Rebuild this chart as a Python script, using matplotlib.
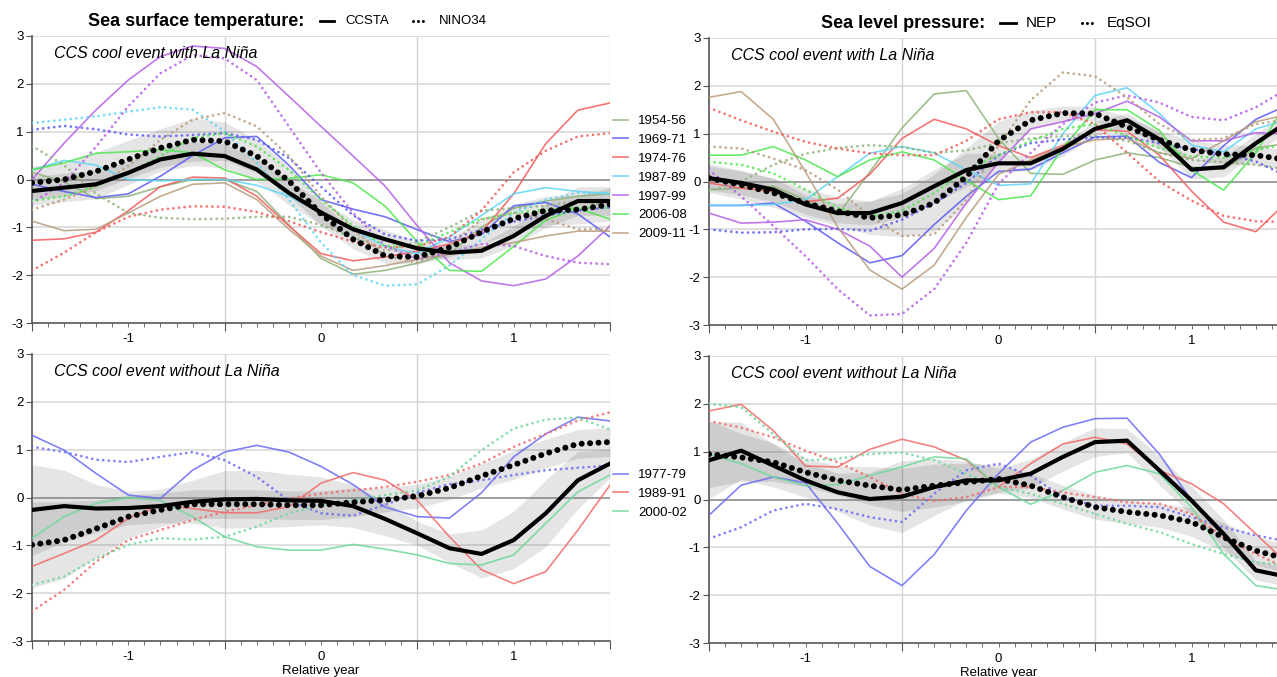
import numpy as np
import matplotlib
matplotlib.use('Agg')
import matplotlib.pyplot as plt
from matplotlib.lines import Line2D

plt.rcParams['font.family'] = ['Liberation Sans', 'DejaVu Sans']
plt.rcParams['axes.unicode_minus'] = False

# relative year, one value every second month
rel_year = np.arange(-18, 19, 2) / 12.

events_nina = ['1954-56', '1969-71', '1974-76', '1987-89', '1997-99', '2006-08', '2009-11']
colors_nina = ['#8db27a', '#5a5af5', '#f25c5c', '#5fd5f5', '#b65ee6', '#4fe64f', '#b89c7e']
events_nonina = ['1977-79', '1989-91', '2000-02']
colors_nonina = ['#6b6bf5', '#f26b6b', '#6fd89a']

# ---- SST, CCS cool event with La Nina
ccsta_nina = [-0.24, -0.17, -0.1, 0.14, 0.42, 0.54, 0.49, 0.21, -0.28, -0.69, -1.04, -1.25, -1.44, -1.53, -1.49, -1.18, -0.76, -0.45, -0.45]
nino34_nina = [-0.07, 0.0, 0.17, 0.42, 0.66, 0.83, 0.8, 0.49, -0.03, -0.72, -1.25, -1.6, -1.62, -1.42, -1.1, -0.82, -0.65, -0.63, -0.52]
ccsta_nina_se = [0.3, 0.3, 0.3, 0.25, 0.25, 0.25, 0.25, 0.25, 0.25, 0.25, 0.2, 0.2, 0.15, 0.15, 0.15, 0.2, 0.25, 0.3, 0.3]
nino34_nina_se = [0.35, 0.35, 0.4, 0.4, 0.4, 0.45, 0.4, 0.35, 0.3, 0.25, 0.2, 0.15, 0.15, 0.2, 0.25, 0.3, 0.3, 0.3, 0.35]

ccsta_1954 = [0.15, -0.05, -0.4, -0.35, -0.15, 0.0, 0.0, -0.25, -0.95, -1.65, -1.98, -1.9, -1.75, -1.55, -1.0, -0.6, -0.45, -0.35, -0.3]
ccsta_1969 = [-0.1, -0.25, -0.38, -0.3, 0.07, 0.5, 0.87, 0.9, 0.3, -0.42, -0.62, -0.78, -1.05, -1.3, -1.15, -0.55, -0.48, -0.72, -1.2]
ccsta_1974 = [-1.27, -1.24, -1.1, -0.65, -0.15, 0.05, 0.03, -0.35, -0.97, -1.55, -1.7, -1.62, -1.5, -1.35, -1.1, -0.3, 0.75, 1.45, 1.6]
ccsta_1987 = [0.2, 0.4, 0.3, 0.0, -0.03, 0.0, 0.0, -0.12, -0.35, -0.68, -1.05, -1.4, -1.55, -1.2, -0.75, -0.3, -0.17, -0.25, -0.3]
ccsta_1997 = [0.0, 0.76, 1.46, 2.08, 2.57, 2.79, 2.74, 2.36, 1.74, 1.11, 0.49, -0.14, -0.97, -1.74, -2.12, -2.22, -2.08, -1.6, -0.97]
ccsta_2006 = [0.2, 0.35, 0.55, 0.58, 0.62, 0.56, 0.2, 0.0, 0.02, 0.1, -0.07, -0.56, -1.3, -1.9, -1.92, -1.4, -0.85, -0.6, -0.83]
ccsta_2009 = [-0.87, -1.07, -1.04, -0.7, -0.35, -0.1, -0.07, -0.42, -1.04, -1.6, -1.9, -1.8, -1.67, -1.56, -1.42, -1.32, -1.18, -1.08, -1.08]

nino34_1954 = [0.7, 0.3, -0.3, -0.7, -0.8, -0.83, -0.82, -0.78, -0.78, -0.95, -1.2, -1.5, -1.3, -1.0, -0.65, -0.6, -0.55, -0.45, -0.55]
nino34_1969 = [1.04, 1.12, 1.05, 0.94, 0.9, 0.93, 0.97, 0.83, 0.45, -0.15, -0.75, -1.15, -1.28, -1.25, -1.05, -0.88, -0.75, -0.65, -0.58]
nino34_1974 = [-1.9, -1.53, -1.1, -0.78, -0.63, -0.56, -0.57, -0.68, -0.87, -1.1, -1.3, -1.42, -1.4, -1.2, -0.65, 0.15, 0.6, 0.9, 0.97]
nino34_1987 = [1.18, 1.25, 1.32, 1.42, 1.51, 1.46, 1.0, 0.35, -0.42, -1.32, -2.0, -2.22, -2.19, -1.8, -1.25, -0.7, -0.42, -0.28, -0.28]
nino34_1997 = [-0.49, -0.07, 0.69, 1.53, 2.22, 2.6, 2.53, 2.08, 1.11, 0.14, -0.7, -1.39, -1.67, -1.53, -1.35, -1.39, -1.6, -1.74, -1.77]
nino34_2006 = [-0.45, -0.35, -0.14, 0.14, 0.49, 0.87, 0.97, 0.69, 0.2, -0.42, -0.97, -1.39, -1.39, -1.1, -0.83, -0.7, -0.63, -0.59, -0.59]
nino34_2009 = [-0.63, -0.42, -0.14, 0.28, 0.83, 1.25, 1.39, 1.11, 0.49, -0.35, -1.04, -1.6, -1.74, -1.39, -0.83, -0.7, -0.83, -1.04, -1.04]

# ---- SLP, CCS cool event with La Nina
nep_nina = [0.07, -0.03, -0.17, -0.48, -0.66, -0.66, -0.45, -0.1, 0.24, 0.38, 0.38, 0.68, 1.1, 1.28, 0.88, 0.25, 0.3, 0.8, 1.25]
eqsoi_nina = [0.07, -0.07, -0.24, -0.45, -0.62, -0.76, -0.7, -0.45, 0.1, 0.85, 1.28, 1.43, 1.42, 1.14, 0.87, 0.66, 0.57, 0.55, 0.45]
nep_nina_se = [0.25, 0.25, 0.25, 0.2, 0.2, 0.25, 0.3, 0.35, 0.35, 0.2, 0.15, 0.15, 0.15, 0.15, 0.15, 0.2, 0.2, 0.2, 0.2]
eqsoi_nina_se = [0.3, 0.3, 0.3, 0.3, 0.3, 0.35, 0.45, 0.6, 0.6, 0.4, 0.2, 0.15, 0.15, 0.2, 0.2, 0.2, 0.2, 0.2, 0.2]

nep_1954 = [-0.17, -0.14, -0.1, -0.38, -0.7, 0.2, 1.12, 1.83, 1.9, 0.9, 0.17, 0.15, 0.45, 0.6, 0.5, 0.3, 0.25, 0.7, 0.8]
nep_1969 = [-0.5, -0.5, -0.45, -0.83, -1.28, -1.7, -1.55, -0.9, -0.31, 0.21, 0.26, 0.6, 0.93, 0.95, 0.4, 0.08, 0.75, 1.3, 1.6]
nep_1974 = [-0.03, -0.14, -0.21, -0.42, -0.35, 0.15, 0.9, 1.3, 1.1, 0.75, 0.5, 0.75, 1.08, 1.05, 0.55, -0.2, -0.85, -1.05, -0.4]
nep_1987 = [-0.5, -0.5, -0.48, -0.38, 0.1, 0.59, 0.73, 0.6, 0.24, -0.08, -0.05, 1.0, 1.8, 1.96, 1.42, 0.76, 0.62, 1.1, 1.3]
nep_1997 = [-0.66, -0.87, -0.85, -0.8, -1.0, -1.35, -2.0, -1.4, -0.45, 0.4, 1.1, 1.25, 1.42, 1.68, 1.35, 0.85, 0.85, 1.02, 1.0]
nep_2006 = [0.55, 0.55, 0.73, 0.45, 0.1, 0.45, 0.62, 0.45, 0.03, -0.38, -0.3, 0.7, 1.5, 1.5, 1.07, 0.24, -0.18, 0.6, 1.7]
nep_2009 = [1.76, 1.88, 1.3, 0.2, -0.95, -1.85, -2.25, -1.75, -0.75, 0.15, 0.45, 0.72, 0.87, 0.9, 0.6, 0.48, 0.85, 1.25, 1.4]

eqsoi_1954 = [-0.2, 0.0, 0.35, 0.58, 0.7, 0.76, 0.72, 0.6, 0.65, 0.8, 0.9, 0.95, 0.95, 0.85, 0.6, 0.45, 0.4, 0.35, 0.25]
eqsoi_1969 = [-1.0, -1.07, -1.06, -1.0, -0.99, -1.03, -0.8, -0.45, -0.03, 0.55, 0.8, 0.88, 0.92, 0.92, 0.8, 0.68, 0.58, 0.42, 0.1]
eqsoi_1974 = [1.54, 1.28, 1.04, 0.83, 0.69, 0.59, 0.55, 0.55, 0.85, 1.3, 1.45, 1.45, 1.2, 0.6, 0.0, -0.4, -0.72, -0.83, -0.85]
eqsoi_1987 = None  # not shown in the figure
eqsoi_1997 = [0.24, -0.31, -0.93, -1.56, -2.25, -2.8, -2.77, -2.25, -1.28, -0.05, 0.6, 1.2, 1.65, 1.8, 1.65, 1.35, 1.28, 1.55, 1.95]
eqsoi_2006 = [0.41, 0.35, 0.17, -0.17, -0.55, -0.73, -0.62, -0.24, 0.24, 0.55, 0.85, 1.1, 1.2, 0.95, 0.7, 0.52, 0.5, 0.65, 0.8]
eqsoi_2009 = [0.73, 0.69, 0.48, 0.24, -0.17, -0.73, -1.14, -1.11, -0.38, 0.75, 1.7, 2.28, 2.2, 1.76, 1.2, 0.87, 0.9, 1.2, 1.3]

# ---- SST, CCS cool event without La Nina
ccsta_nonina = [-0.26, -0.18, -0.23, -0.22, -0.18, -0.09, -0.04, -0.03, -0.06, -0.07, -0.18, -0.45, -0.75, -1.06, -1.18, -0.89, -0.33, 0.36, 0.71]
nino34_nonina = [-0.99, -0.89, -0.65, -0.4, -0.26, -0.14, -0.14, -0.14, -0.16, -0.16, -0.1, -0.05, 0.03, 0.2, 0.45, 0.68, 0.92, 1.12, 1.16]
ccsta_nonina_se = [0.95, 0.75, 0.5, 0.35, 0.35, 0.45, 0.6, 0.6, 0.55, 0.5, 0.45, 0.35, 0.25, 0.3, 0.5, 0.6, 0.7, 0.6, 0.3]
nino34_nonina_se = [0.9, 0.8, 0.6, 0.45, 0.35, 0.3, 0.3, 0.3, 0.3, 0.3, 0.3, 0.25, 0.25, 0.25, 0.25, 0.3, 0.3, 0.3, 0.3]

ccsta_1977 = [1.3, 0.99, 0.5, 0.05, -0.02, 0.57, 0.95, 1.09, 0.95, 0.65, 0.27, -0.2, -0.4, -0.43, 0.1, 0.85, 1.33, 1.68, 1.6]
ccsta_1989 = [-1.44, -1.17, -0.89, -0.44, -0.16, -0.23, -0.32, -0.32, -0.19, 0.3, 0.52, 0.36, -0.06, -0.82, -1.51, -1.8, -1.55, -0.68, 0.26]
ccsta_2000 = [-0.85, -0.4, -0.12, 0.0, -0.06, -0.4, -0.82, -1.03, -1.1, -1.1, -0.98, -1.08, -1.2, -1.38, -1.41, -1.2, -0.54, 0.12, 0.47]
nino34_1977 = [1.06, 0.95, 0.79, 0.74, 0.85, 0.95, 0.78, 0.43, -0.06, -0.33, -0.38, -0.15, 0.1, 0.28, 0.36, 0.47, 0.57, 0.62, 0.67]
nino34_1989 = [-2.38, -1.93, -1.34, -0.89, -0.68, -0.47, -0.3, -0.16, -0.02, 0.08, 0.15, 0.22, 0.33, 0.47, 0.71, 1.06, 1.33, 1.61, 1.78]
nino34_2000 = [-1.83, -1.65, -1.27, -0.99, -0.85, -0.88, -0.82, -0.61, -0.33, -0.16, -0.06, 0.05, 0.15, 0.43, 0.99, 1.44, 1.63, 1.67, 1.42]

# ---- SLP, CCS cool event without La Nina
nep_nonina = [0.82, 1.02, 0.71, 0.4, 0.15, 0.01, 0.06, 0.26, 0.4, 0.4, 0.54, 0.89, 1.2, 1.23, 0.61, -0.02, -0.72, -1.48, -1.62]
eqsoi_nonina = [0.95, 0.88, 0.78, 0.57, 0.4, 0.29, 0.2, 0.29, 0.36, 0.43, 0.29, 0.05, -0.16, -0.26, -0.33, -0.47, -0.79, -1.07, -1.25]
nep_nonina_se = [0.8, 0.6, 0.45, 0.35, 0.4, 0.55, 0.75, 0.6, 0.4, 0.25, 0.3, 0.3, 0.3, 0.25, 0.3, 0.3, 0.3, 0.2, 0.2]
eqsoi_nonina_se = [0.7, 0.5, 0.4, 0.3, 0.3, 0.4, 0.45, 0.45, 0.4, 0.3, 0.25, 0.25, 0.25, 0.25, 0.25, 0.3, 0.3, 0.3, 0.3]

nep_1977 = [-0.33, 0.3, 0.47, 0.35, -0.5, -1.4, -1.8, -1.15, -0.23, 0.54, 1.2, 1.51, 1.69, 1.7, 0.95, -0.02, -0.72, -1.48, -1.6]
nep_1989 = [1.85, 1.99, 1.44, 0.7, 0.68, 1.05, 1.26, 1.1, 0.82, 0.26, 0.75, 1.16, 1.3, 1.16, 0.61, 0.33, -0.09, -0.72, -1.35]
nep_2000 = [0.95, 0.75, 0.47, 0.29, 0.31, 0.5, 0.68, 0.89, 0.85, 0.26, -0.1, 0.19, 0.57, 0.71, 0.54, -0.16, -1.14, -1.8, -1.9]
eqsoi_1977 = [-0.82, -0.58, -0.23, -0.09, -0.2, -0.37, -0.47, 0.12, 0.61, 0.75, 0.5, 0.05, -0.13, -0.13, -0.16, -0.37, -0.58, -0.75, -0.88]
eqsoi_1989 = [1.64, 1.5, 1.3, 1.02, 0.78, 0.47, 0.12, -0.03, 0.05, 0.26, 0.26, 0.15, 0.05, -0.06, -0.09, -0.3, -0.79, -1.14, -1.45]
eqsoi_2000 = [2.0, 1.93, 1.37, 0.82, 0.85, 0.95, 0.98, 0.82, 0.54, 0.26, 0.12, -0.09, -0.3, -0.51, -0.68, -0.93, -1.14, -1.31, -1.38]

W, H = 1277, 677
fig = plt.figure(figsize=(W / 100., H / 100.), dpi=100)


def px_box(left, top, width, height):
    return [left / W, 1 - (top + height) / H, width / W, height / H]


def panel(ax, colors, solids, dots, mean_s, mean_d, se_s, se_d, note, xlabel=False):
    ms, md = np.array(mean_s), np.array(mean_d)
    ax.fill_between(rel_year, ms - se_s, ms + se_s, color='black', alpha=0.1, lw=0, zorder=1)
    ax.fill_between(rel_year, md - se_d, md + se_d, color='black', alpha=0.1, lw=0, zorder=1)
    for c, y in zip(colors, solids):
        ax.plot(rel_year, y, color=c, lw=1.2, alpha=0.85, zorder=3)
    for c, y in zip(colors, dots):
        if y is None:
            continue
        ax.plot(rel_year, y, color=c, lw=2.0, alpha=0.85, linestyle=(0, (0.01, 2.0)),
                dash_capstyle='round', zorder=3)
    ax.plot(rel_year, ms, color='black', lw=3.0, solid_capstyle='round',
            solid_joinstyle='round', zorder=5)
    ax.plot(rel_year, md, color='black', lw=4.3, linestyle=(0, (0.01, 1.4)),
            dash_capstyle='round', zorder=5)

    ax.set_xlim(-1.5, 1.5)
    ax.set_ylim(-3, 3)
    for v in [-2, -1, 1, 2, 3]:
        ax.axhline(v, color='#d9d9d9', lw=1.2, zorder=0)
    ax.axhline(0, color='#8c8c8c', lw=1.2, zorder=2)
    for v in [-0.5, 0.5, 1.5]:
        ax.axvline(v, color='#d4d4d4', lw=1.0, zorder=0)

    for s in ['top', 'right']:
        ax.spines[s].set_visible(False)
    for s in ['left', 'bottom']:
        ax.spines[s].set_color('#555555')
        ax.spines[s].set_linewidth(1.2)
    ax.set_yticks(range(-3, 4))
    ax.set_yticklabels([str(v) for v in range(-3, 4)], fontsize=9.5)
    ax.tick_params(axis='y', length=4, color='#555555', pad=2)
    ax.set_xticks([-1.5, -0.5, 0.5, 1.5])
    ax.set_xticklabels([])
    ax.set_xticks(np.arange(-18, 19) / 12., minor=True)
    ax.tick_params(axis='x', which='major', length=6, color='#555555')
    ax.tick_params(axis='x', which='minor', length=3, color='#555555')
    for v in [-1, 0, 1]:
        ax.text(v, -0.035, str(v), transform=ax.get_xaxis_transform(),
                ha='center', va='top', fontsize=9.5)
    if xlabel:
        ax.text(0, -0.085, 'Relative year', transform=ax.get_xaxis_transform(),
                ha='center', va='top', fontsize=9.5)
    ax.text(0.038, 0.94, note, transform=ax.transAxes, ha='left', va='center',
            fontsize=11.5, style='italic')


ax_tl = fig.add_axes(px_box(32, 36, 578, 287))
ax_bl = fig.add_axes(px_box(32, 354, 578, 287))
ax_tr = fig.add_axes(px_box(709, 38, 579, 287))
ax_br = fig.add_axes(px_box(709, 356, 579, 287))

panel(ax_tl, colors_nina,
      [ccsta_1954, ccsta_1969, ccsta_1974, ccsta_1987, ccsta_1997, ccsta_2006, ccsta_2009],
      [nino34_1954, nino34_1969, nino34_1974, nino34_1987, nino34_1997, nino34_2006, nino34_2009],
      ccsta_nina, nino34_nina, ccsta_nina_se, nino34_nina_se, 'CCS cool event with La Niña')
panel(ax_tr, colors_nina,
      [nep_1954, nep_1969, nep_1974, nep_1987, nep_1997, nep_2006, nep_2009],
      [eqsoi_1954, eqsoi_1969, eqsoi_1974, eqsoi_1987, eqsoi_1997, eqsoi_2006, eqsoi_2009],
      nep_nina, eqsoi_nina, nep_nina_se, eqsoi_nina_se, 'CCS cool event with La Niña')
panel(ax_bl, colors_nonina, [ccsta_1977, ccsta_1989, ccsta_2000],
      [nino34_1977, nino34_1989, nino34_2000],
      ccsta_nonina, nino34_nonina, ccsta_nonina_se, nino34_nonina_se,
      'CCS cool event without La Niña', xlabel=True)
panel(ax_br, colors_nonina, [nep_1977, nep_1989, nep_2000],
      [eqsoi_1977, eqsoi_1989, eqsoi_2000],
      nep_nonina, eqsoi_nonina, nep_nonina_se, eqsoi_nonina_se,
      'CCS cool event without La Niña', xlabel=True)

# event legends between the panels
h_nina = [Line2D([], [], color=c, lw=1.2, alpha=0.85) for c in colors_nina]
fig.legend(h_nina, events_nina, loc='upper left', bbox_to_anchor=(613 / W, 1 - 115 / H),
           frameon=False, fontsize=9.5, handlelength=1.1, handletextpad=0.8,
           labelspacing=0.5, borderpad=0, borderaxespad=0)
h_nonina = [Line2D([], [], color=c, lw=1.2, alpha=0.85) for c in colors_nonina]
fig.legend(h_nonina, events_nonina, loc='upper left', bbox_to_anchor=(613 / W, 1 - 469 / H),
           frameon=False, fontsize=9.5, handlelength=1.1, handletextpad=0.8,
           labelspacing=0.5, borderpad=0, borderaxespad=0)

# headers with line-style keys
def header(x_title, title, x_items, labels, size, y):
    yf = 1 - y / H
    fig.text(x_title / W, yf, title, fontsize=13, fontweight='bold', ha='left', va='center')
    for (x0, x1, xt), lab, style in zip(x_items, labels, ['solid', 'dots']):
        if style == 'solid':
            fig.add_artist(Line2D([x0 / W, x1 / W], [yf, yf], color='black', lw=2.0))
        else:
            fig.add_artist(Line2D([x0 / W, x1 / W], [yf, yf], color='black', lw=2.2,
                                  linestyle=(0, (0.01, 1.6)), dash_capstyle='round'))
        fig.text(xt / W, yf, lab, fontsize=size, ha='left', va='center')


header(88, 'Sea surface temperature:', [(320, 334, 345), (413, 424, 439)],
       ['CCSTA', 'NINO34'], 9.5, 21)
header(821, 'Sea level pressure:', [(1000, 1016, 1026), (1082, 1093, 1107)],
       ['NEP', 'EqSOI'], 11, 23)

fig.savefig('out.png', dpi=100)
